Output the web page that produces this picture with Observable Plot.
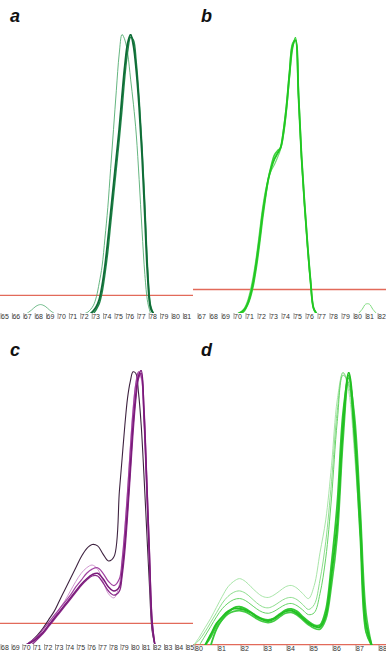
<!DOCTYPE html>
<html>
<head>
<meta charset="utf-8">
<script src="https://cdn.jsdelivr.net/npm/d3@7"></script>
<script src="https://cdn.jsdelivr.net/npm/@observablehq/plot@0.6"></script>
<style>
  html, body { margin: 0; padding: 0; background: #fff; }
  #wrap { position: relative; width: 386px; height: 654px; overflow: hidden; background: #fff; }
  .cell { position: absolute; width: 193px; height: 327px; }
  .cell svg { display: block; }
  .lab { position: absolute; font: italic bold 18px "Liberation Sans", Arial, sans-serif; color: #111; }
</style>
</head>
<body>
<div id="wrap"></div>
<script>
// ---------- Panel a ----------
const ticksA = [65,66,67,68,69,70,71,72,73,74,75,76,77,78,79,80,81];
const tempA = [72.5,72.75,73,73.25,73.5,73.75,74,74.25,74.5,74.75,75,75.25,75.5,75.75,76,76.25,76.5,76.75,77,77.25,77.5,77.75,78,78.25,78.5];
const aDark1 = [null,null,0,1,2.5,5,10,17,26,36,46,56,66,78,89,97,100,96,87,74,57,35,13,2,0];
const aDark2 = [null,null,null,0,1.5,3.5,7.5,14,22,32,42,52,62,73,85,94,99,98,90,77,60,39,16,3,0];
const aLight = [0,0.5,1.5,3,6,11,17,27,38,52,66,80,93,100,98,93,84,75,64,48,30,14,4,0,null];
const tempA2 = [67.4,67.8,68.2,68.6,69.0,69.4,69.8];
const aLightBump = [0,1.2,2.6,3.2,2.6,1.2,0];
const redA = 6.5;

// ---------- Panel b ----------
const ticksB = [67,68,69,70,71,72,73,74,75,76,77,78,79,80,81,82];
const tempB = [70.5,70.75,71,71.25,71.5,71.75,72,72.25,72.5,72.75,73,73.25,73.5,73.75,74,74.25,74.5,74.75,75,75.25,75.5,75.75,76,76.25,76.5,76.75,77];
const b1 = [0,0.5,1.5,3.5,7,12,19,27,36,43,49,53,56,58,60,66,75,87,97,99,79,57,40,25,12,2,0];
const b2 = [null,0,1,3,6,10.5,17,25,34,42,49,54,57.5,59,60,65,74,86,96,100,80,57,40,25,12,2,0];
const b3 = [0,0.7,2,4.5,8.5,14,21,29.5,38,44.5,49,52,54,56.5,59.5,67,76,88,98,99,78,56,39,24,11,2,0];
const tempB2 = [80.5,80.8,81.1,81.4,81.7,82.0];
const bBump = [0,1.5,3.4,3.4,1.5,0];
const redB = 8.7;

// ---------- Panel c ----------
const ticksC = [68,69,70,71,72,73,74,75,76,77,78,79,80,81,82,83,84,85];
const tempC = [70.5,71,71.5,72,72.5,73,73.5,74,74.5,75,75.5,76,76.5,77,77.5,78,78.5,79,79.25,79.5,79.75,80,80.25,80.5,80.75,81,81.25,81.5,81.75,82,82.25];
const cThick1 = [0,1,2.5,4.5,7,9.5,12,14.5,17,19.5,22,24,25.5,26,24,21,19.5,21,27,37,50,65,80,91,98,100,85,60,33,8,0];
const cThick2 = [null,0,2,4,6.5,9,11.5,14,16.5,19,21.5,23.5,25,25,22.5,19.5,18,19.5,25,34,47,62,77,89,97,99,87,62,35,9,0];
const cThick3 = [0,1.5,3,5.5,8,10.5,13,15.5,18,21,23.5,26,27.5,28,26,23,21.5,24,31,42,56,71,85,95,99.5,98,82,56,30,6,0];
const cDark = [0,1.5,3.5,6,9,12,16,20,24,28,32,35,36.5,36,33,30.5,32,56,68,80,90,96,99.5,99,92,80,62,42,22,5,0];
const cLight = [0,1,2.5,4.5,7,10,13,16,19.5,23,26,28,29,27.5,23,18.5,17,22,30,42,56,72,86,95,99,97,82,58,31,7,0];
const redC = 7.7;

// ---------- Panel d ----------
const ticksD = [80,81,82,83,84,85,86,87,88];
const tempD = [80,80.25,80.5,80.75,81,81.25,81.5,81.75,82,82.25,82.5,82.75,83,83.25,83.5,83.75,84,84.25,84.5,84.75,85,85.25,85.5,85.75,86,86.25,86.5,86.75,87,87.25,87.5,87.75];
const dThick1 = [null,null,0,4,8,10.5,12.5,13.5,13.5,13,12,10.5,9.5,9,9.8,11.2,12.5,12.8,11.8,10,8.2,7,6.8,11,26,45,80,100,80,45,8,0];
const dThick2 = [null,null,null,0,6,9.5,12,13.8,14.2,13.5,12.2,10.8,9.8,9.4,10,11.5,13,13.4,12.5,10.6,8.8,7.5,7.5,13,30,52,85,99,76,40,5,0];
const dThick3 = [null,null,0,3,7,9.5,11.5,12.5,12.8,12.3,11.2,9.8,8.8,8.4,9,10.5,11.8,12.1,11.2,9.4,7.6,6.3,6,9.5,22,40,75,98,84,50,12,0];
const dThinTop = [0,3,6.5,10,14,18,21.5,23.5,24.5,23.5,21.5,19.5,18,17.6,18.5,20,21.5,22,21,19,17.2,22,34,46,66,90,100,93,70,40,5,0];
const dThinMid1 = [0,2,5,8.5,12,15.5,18,19.5,20,19.2,17.5,15.6,14.2,13.8,14.6,16,17.2,17.6,16.8,15,13.2,15,24,38,60,86,100,95,74,42,7,0];
const dThinMid2 = [null,0,3.5,7,10.5,13.5,15.5,16.8,17.2,16.5,15,13.4,12.2,11.8,12.5,13.8,15,15.4,14.6,13,11.3,12,19,32,54,82,99,96,76,44,8,0];
const redD = 0.3;

// ---------- helpers ----------
function rows(T, Y) {
  const out = [];
  T.forEach((t, i) => { if (Y[i] !== null && Y[i] !== undefined) out.push({t, v: Y[i]}); });
  return out;
}

function panel({left, top, mt, mb, xdom, ticks, red, series, letter, lx, ly}) {
  const marks = [
    Plot.ruleY([red], {stroke: "#e26a5a", strokeWidth: 1.3}),
    ...series.map(s => Plot.line(rows(s.T, s.Y), {
      x: "t", y: "v", stroke: s.c, strokeWidth: s.w, strokeOpacity: s.o ?? 1,
      curve: "catmull-rom", clip: true
    })),
    Plot.axisX({
      ticks, tickSize: 6, tickPadding: -5, textAnchor: "start", dx: 1.5,
      fontSize: 7, fill: "#333", stroke: "#888", strokeWidth: 0.8,
      tickFormat: d => String(d), label: null
    })
  ];
  const chart = Plot.plot({
    width: 193, height: 327,
    marginLeft: 0, marginRight: 0, marginTop: mt, marginBottom: mb,
    style: {background: "transparent", fontFamily: "'Liberation Sans', Arial, sans-serif", overflow: "visible"},
    x: {domain: xdom},
    y: {domain: [0, 100], axis: null},
    marks
  });
  const cell = document.createElement("div");
  cell.className = "cell";
  cell.style.left = left + "px";
  cell.style.top = top + "px";
  cell.appendChild(chart);
  const lab = document.createElement("div");
  lab.className = "lab";
  lab.textContent = letter;
  lab.style.left = lx + "px";
  lab.style.top = ly + "px";
  cell.appendChild(lab);
  document.getElementById("wrap").appendChild(cell);
}

// a
panel({
  left: 0, top: 0, mt: 34, mb: 14,
  xdom: [65 + 1/11.4, 65 + 1/11.4 + 193/11.4],
  ticks: ticksA, red: redA, letter: "a", lx: 10, ly: 6,
  series: [
    {T: tempA, Y: aLight, c: "#4aa86a", w: 1.0, o: 0.85},
    {T: tempA2, Y: aLightBump, c: "#5db27a", w: 1.0, o: 0.85},
    {T: tempA, Y: aDark2, c: "#23884a", w: 1.4},
    {T: tempA, Y: aDark1, c: "#0f6c37", w: 1.9}
  ]
});

// b
panel({
  left: 193, top: 0, mt: 37, mb: 14,
  xdom: [67 - 3/12, 67 - 3/12 + 193/12],
  ticks: ticksB, red: redB, letter: "b", lx: 8, ly: 6,
  series: [
    {T: tempB, Y: b3, c: "#6fdc6f", w: 1.2},
    {T: tempB2, Y: bBump, c: "#7fdc7f", w: 1.0},
    {T: tempB, Y: b2, c: "#3fd23f", w: 1.6},
    {T: tempB, Y: b1, c: "#22c722", w: 1.9}
  ]
});

// c
panel({
  left: 0, top: 327, mt: 43, mb: 10,
  xdom: [68 + 1/10.9, 68 + 1/10.9 + 193/10.9],
  ticks: ticksC, red: redC, letter: "c", lx: 10, ly: 13,
  series: [
    {T: tempC, Y: cLight, c: "#c98ac9", w: 0.9},
    {T: tempC, Y: cDark, c: "#3e2340", w: 1.1},
    {T: tempC, Y: cThick3, c: "#a040a0", w: 1.2},
    {T: tempC, Y: cThick2, c: "#8a2a8a", w: 1.3},
    {T: tempC, Y: cThick1, c: "#7a1a7a", w: 1.5}
  ]
});

// d
panel({
  left: 193, top: 327, mt: 45, mb: 9,
  xdom: [80, 80 + 193/23],
  ticks: ticksD, red: redD, letter: "d", lx: 8, ly: 13,
  series: [
    {T: tempD, Y: dThinTop, c: "#a9e6a9", w: 1.0},
    {T: tempD, Y: dThinMid1, c: "#8ede8e", w: 1.0},
    {T: tempD, Y: dThinMid2, c: "#66d466", w: 1.0},
    {T: tempD, Y: dThick3, c: "#44cc44", w: 1.7},
    {T: tempD, Y: dThick2, c: "#33c833", w: 1.8},
    {T: tempD, Y: dThick1, c: "#22c022", w: 2.0}
  ]
});
</script>
</body>
</html>
